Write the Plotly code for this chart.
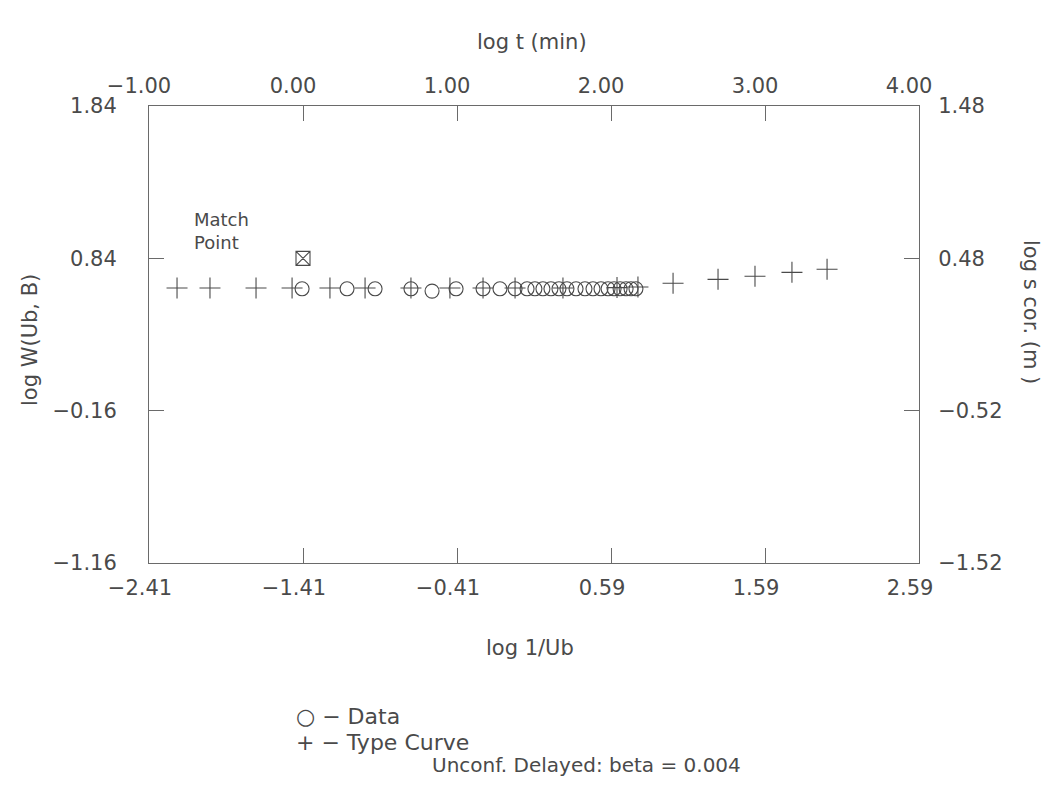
import plotly.graph_objects as go

# ---- data ----
data_log_inv_ub = [-1.416, -1.124, -0.942, -0.709, -0.572, -0.416, -0.241, -0.131, -0.033,
                   0.045, 0.096, 0.148, 0.200, 0.252, 0.304, 0.363, 0.421, 0.473, 0.525,
                   0.571, 0.610, 0.649, 0.688, 0.720, 0.752]
data_log_w = [0.64, 0.64, 0.64, 0.64, 0.625, 0.64, 0.64, 0.64, 0.64,
              0.64, 0.64, 0.64, 0.64, 0.64, 0.64, 0.64, 0.64, 0.64, 0.64,
              0.64, 0.64, 0.64, 0.64, 0.64, 0.64]

type_log_inv_ub = [-2.228, -2.014, -1.715, -1.481, -1.235, -1.007, -0.709, -0.456, -0.241,
                   -0.033, 0.278, 0.629, 0.765, 0.993, 1.285, 1.525, 1.765, 1.993]
type_log_w = [0.645, 0.645, 0.645, 0.645, 0.645, 0.645, 0.645, 0.645, 0.645,
              0.645, 0.645, 0.648, 0.652, 0.676, 0.702, 0.722, 0.748, 0.768]

match_log_t = [0.0]
match_log_s = [0.48]

x_ticks = [-2.41, -1.41, -0.41, 0.59, 1.59, 2.59]
y_ticks = [-1.16, -0.16, 0.84, 1.84]
x2_ticks = [-1.00, 0.00, 1.00, 2.00, 3.00, 4.00]
y2_ticks = [-1.52, -0.52, 0.48, 1.48]


def fmt(v):
    s = f"{v:.2f}"
    return s.replace("-", "\u2212")


INK = "#4a4a4a"
LINE = "#6a6a6a"
FONT = "DejaVu Sans"

OFF = 8                      # page body margin
W, H = 1061 - 2 * OFF, 788 - 2 * OFF
L, R, T, B = 149, 919, 106, 563   # plot area in screen pixels


def px(x):
    return (x - L) / (R - L)


def py(y):
    return (B - y) / (B - T)


fig = go.Figure()

fig.add_trace(go.Scatter(
    x=data_log_inv_ub, y=data_log_w, mode="markers", name="Data",
    marker=dict(symbol="circle-open", size=14, color=INK, line=dict(width=1.1, color=INK)),
    xaxis="x", yaxis="y", showlegend=False))

fig.add_trace(go.Scatter(
    x=type_log_inv_ub, y=type_log_w, mode="markers", name="Type Curve",
    marker=dict(symbol="cross-thin-open", size=15, color=INK, line=dict(width=1.1, color=INK)),
    xaxis="x", yaxis="y", showlegend=False))

fig.add_trace(go.Scatter(
    x=match_log_t, y=match_log_s, mode="markers", name="Match Point",
    marker=dict(symbol="square-x-open", size=14, color=INK, line=dict(width=1.1, color=INK)),
    xaxis="x2", yaxis="y2", showlegend=False))

axis_common = dict(
    showgrid=False, zeroline=False, showline=True, linecolor=LINE, linewidth=1,
    ticks="inside", ticklen=15, tickwidth=1, tickcolor=LINE,
    tickfont=dict(family=FONT, size=21, color=INK),
    tickmode="array",
)

fig.update_layout(
    width=W, height=H,
    margin=dict(l=L - OFF, r=OFF + W - R, t=T - OFF, b=OFF + H - B, pad=0),
    paper_bgcolor="white", plot_bgcolor="white",
    xaxis=dict(range=[-2.41, 2.59], tickvals=x_ticks, ticktext=[fmt(v) for v in x_ticks],
               ticklabelstandoff=6, ticklabelshift=-9, **axis_common),
    yaxis=dict(range=[-1.16, 1.84], tickvals=y_ticks, ticktext=[fmt(v) for v in y_ticks],
               ticklabelstandoff=27, **axis_common),
    xaxis2=dict(range=[-1.00, 4.00], tickvals=x2_ticks, ticktext=[fmt(v) for v in x2_ticks],
                overlaying="x", side="top", anchor="y", ticklabelstandoff=4,
                ticklabelshift=-10, **axis_common),
    yaxis2=dict(range=[-1.52, 1.48], tickvals=y2_ticks, ticktext=[fmt(v) for v in y2_ticks],
                overlaying="y", side="right", anchor="x", ticklabelstandoff=14,
                **axis_common),
    showlegend=False,
)

ann_font = dict(family=FONT, size=21, color=INK)
annotations = [
    dict(text="log t (min)", x=px(532), y=py(42), xanchor="center", yanchor="middle"),
    dict(text="log 1/Ub", x=px(530), y=py(648), xanchor="center", yanchor="middle"),
    dict(text="log W(Ub, B)", x=px(30), y=py(340), xanchor="center", yanchor="middle",
         textangle=-90),
    dict(text="log s cor. (m )", x=px(1031), y=py(312), xanchor="center", yanchor="middle",
         textangle=90),
    dict(text="\u25cb \u2212 Data", x=px(294), y=py(716), xanchor="left", yanchor="middle",
         font=dict(family=FONT, size=22, color=INK)),
    dict(text="+ \u2212 Type Curve", x=px(294), y=py(742), xanchor="left", yanchor="middle",
         font=dict(family=FONT, size=22, color=INK)),
    dict(text="Unconf. Delayed: beta = 0.004", x=px(430), y=py(765), xanchor="left",
         yanchor="middle", font=dict(family=FONT, size=20, color=INK)),
    dict(text="Match<br>Point", x=px(192), y=py(231), xanchor="left", yanchor="middle",
         align="left", font=dict(family=FONT, size=18, color=INK)),
]
for a in annotations:
    a.setdefault("font", ann_font)
    a.update(xref="paper", yref="paper", showarrow=False)
fig.update_layout(annotations=annotations)

fig.write_html("out.html")
